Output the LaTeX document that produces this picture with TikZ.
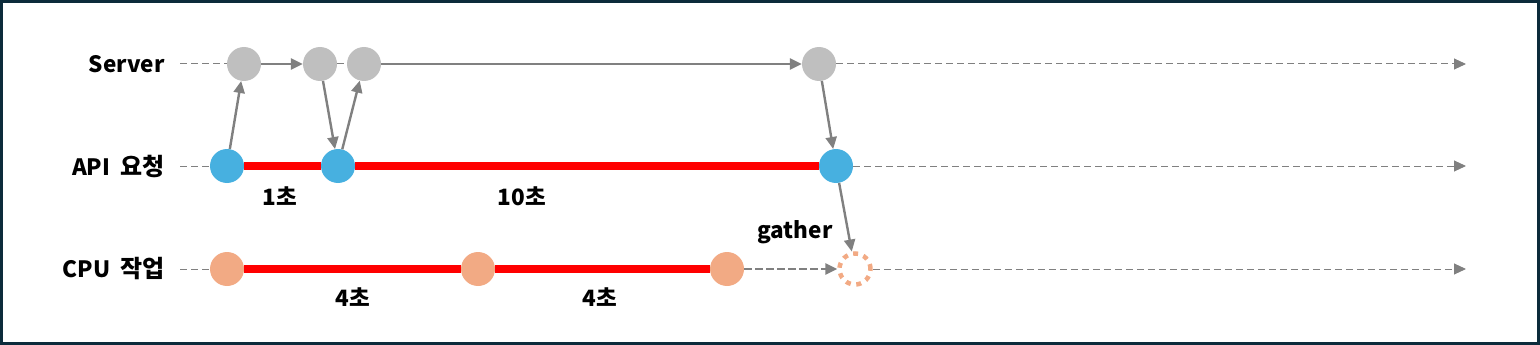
\documentclass[tikz,border=0pt]{standalone}
\usepackage{fontspec}
\setmainfont{Noto Sans CJK KR}
\usetikzlibrary{arrows.meta}
\definecolor{srvgray}{HTML}{BFBFBF}
\definecolor{apiblue}{HTML}{47B0E0}
\definecolor{cpuorange}{HTML}{F2AA84}
\definecolor{arrgray}{HTML}{808080}
\definecolor{framecol}{HTML}{0C2B3B}

\begin{document}
\begin{tikzpicture}[x=1pt, y=-1pt, every node/.style={font=\fontsize{22.5}{26}\selectfont\bfseries},
	>={Triangle[length=12pt, width=11pt]},
	dot/.style={circle, inner sep=0pt, minimum size=34pt},
	srv/.style={dot, fill=srvgray}, api/.style={dot, fill=apiblue}, cpu/.style={dot, fill=cpuorange},
	guide/.style={arrgray, line width=1pt, dash pattern=on 7pt off 4pt},
	link/.style={arrgray, line width=2.4pt, ->},
	busy/.style={red, line width=8pt}]
	\useasboundingbox (0,0) rectangle (1540,345);
	\draw[framecol, line width=3pt] (1.5,1.5) rectangle (1538.5,343.5);
	% row labels and the ends of the time lines
	\node[anchor=east] (lsrv) at (168,64) {Server};
	\node[anchor=east] (lapi) at (168,166) {API\hspace{0.45em}{\fontsize{24}{26}\selectfont 요청}};
	\node[anchor=east] (lcpu) at (168,269) {CPU\hspace{0.45em}{\fontsize{24}{26}\selectfont 작업}};
	\foreach \r/\y in {srv/64, api/166, cpu/269} {
		\coordinate (\r-start) at (180,\y);
		\coordinate (\r-end) at (1466,\y);
	}
	% events
	\foreach \n/\x in {s1/244, s2/320, s3/364, s4/819} \node[srv] (\n) at (\x,64) {};
	\foreach \n/\x in {a1/227, a2/338, a3/836} \node[api] (\n) at (\x,166) {};
	\foreach \n/\x in {c1/227, c2/478, c3/727} \node[cpu] (\n) at (\x,269) {};
	\node[dot, minimum size=31pt, draw=cpuorange, line width=4.5pt, dash pattern=on 5pt off 5.6pt] (g) at (855,269) {};
	% time lines
	\draw[guide] (srv-start) -- (s1);
	\draw[guide] (s2) -- (s3);
	\draw[guide, ->] (s4) -- (srv-end);
	\draw[guide] (api-start) -- (a1);
	\draw[guide, ->] (a3) -- (api-end);
	\draw[guide] (cpu-start) -- (c1);
	\draw[guide, ->] (g) -- (cpu-end);
	\draw[busy] (a1) -- (a2) -- (a3);
	\draw[busy] (c1) -- (c2) -- (c3);
	% requests and answers
	\draw[link] (s1) -- (s2);
	\draw[link] (s3) -- (s4);
	\draw[link] (a1) -- (s1);
	\draw[link] (s2) -- (a2);
	\draw[link] (a2) -- (s3);
	\draw[link] (s4) -- (a3);
	\draw[link] (a3) -- (g);
	\draw[link, line width=2.8pt, dash pattern=on 8pt off 3pt] (c3) -- (g);
	% durations
	\node (t1) at (280,196) {1초};
	\node (t2) at (522,196) {10초};
	\node (t3) at (353,297) {4초};
	\node (t4) at (600,297) {4초};
	\node (tg) at (795,232) {gather};
\end{tikzpicture}
\end{document}
